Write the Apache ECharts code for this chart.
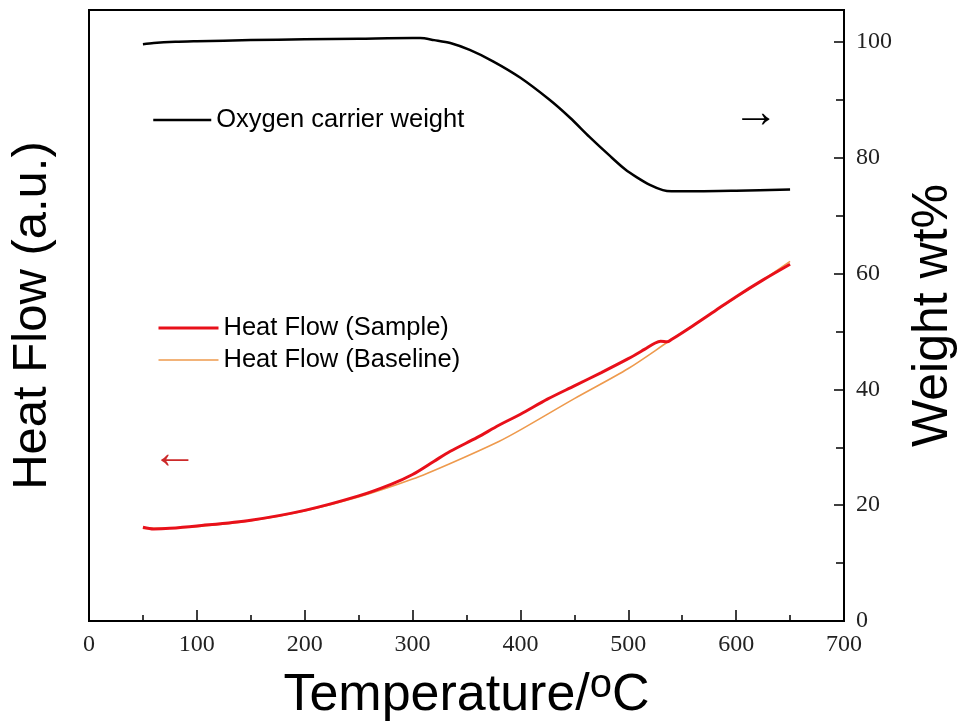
<!DOCTYPE html>
<html>
<head>
<meta charset="utf-8">
<script src="https://cdn.jsdelivr.net/npm/echarts@6/dist/echarts.min.js"></script>
<style>
  html, body { margin: 0; padding: 0; background: #fff; }
  #main { width: 965px; height: 724px; }
</style>
</head>
<body>
<div id="main"></div>
<script>
// 温度 (°C) / 失重曲线
var weightT = [50, 60, 80, 100, 150, 200, 250, 300, 307, 320, 335, 353, 375, 400, 427, 446, 464, 483, 497, 508, 520, 532, 540, 560, 600, 650];
var weightV = [99.6, 99.8, 100.0, 100.1, 100.3, 100.45, 100.55, 100.65, 100.65, 100.3, 99.8, 98.6, 96.6, 93.8, 90.0, 86.9, 83.6, 80.3, 78.0, 76.6, 75.3, 74.4, 74.2, 74.2, 74.3, 74.5];

// 热流 (样品)
var sampleT = [50, 60, 75, 100, 150, 200, 250, 280, 300, 320, 335, 360, 380, 400, 425, 450, 475, 500, 515, 525, 530, 536, 540, 560, 580, 600, 625, 650];
var sampleV = [16.2, 15.9, 16.0, 16.4, 17.4, 19.1, 21.6, 23.6, 25.3, 27.6, 29.3, 31.7, 33.8, 35.7, 38.3, 40.6, 42.9, 45.3, 46.9, 48.0, 48.3, 48.2, 48.6, 51.0, 53.5, 56.0, 58.9, 61.6];

// 热流 (基线)
var baseT = [50, 60, 100, 150, 200, 250, 300, 335, 380, 400, 450, 500, 540, 580, 620, 650];
var baseV = [16.0, 16.0, 16.3, 17.3, 19.0, 21.4, 24.5, 27.2, 31.0, 33.0, 38.4, 43.6, 48.6, 53.5, 58.3, 62.1];

function pairs(xs, ys) {
  var out = [];
  for (var i = 0; i < xs.length; i++) out.push([xs[i], ys[i]]);
  return out;
}

var myChart = echarts.init(document.getElementById('main'));
var serif = 'Liberation Serif';
var sans = 'Liberation Sans';

var option = {
  backgroundColor: '#fff',
  animation: false,
  grid: {
    left: 89, right: 121, top: 10, bottom: 103,
    outerBoundsMode: 'none',
    show: true, borderColor: '#000', borderWidth: 2
  },
  legend: [
    {
      data: [{ name: 'Oxygen carrier weight', lineStyle: { width: 2.5 } }],
      left: 147, top: 102,
      itemWidth: 58, itemHeight: 14,
      itemStyle: { opacity: 0 },
      textStyle: { fontFamily: sans, fontSize: 25.5, color: '#000' }
    },
    {
      data: [
        { name: 'Heat Flow (Sample)', lineStyle: { width: 3 } },
        { name: 'Heat Flow (Baseline)', lineStyle: { width: 1.6 } }
      ],
      orient: 'vertical',
      left: 152, top: 310,
      itemWidth: 60, itemHeight: 14, itemGap: 6,
      itemStyle: { opacity: 0 },
      textStyle: { fontFamily: sans, fontSize: 25.5, color: '#000', lineHeight: 26 }
    }
  ],
  xAxis: {
    type: 'value', min: 0, max: 700, interval: 100,
    name: '{a|Temperature/}{s|o}{a|C}',
    nameLocation: 'middle', nameGap: 45,
    nameTextStyle: {
      rich: {
        a: { fontFamily: sans, fontSize: 52, color: '#000' },
        s: { fontFamily: sans, fontSize: 40, color: '#000', verticalAlign: 'top', padding: [0, 0, 20, 0] }
      }
    },
    axisLine: { lineStyle: { color: '#000', width: 2 } },
    axisTick: { inside: true, length: 11, lineStyle: { color: '#000', width: 1.5 } },
    minorTick: { show: true, splitNumber: 2, length: 6, lineStyle: { color: '#000', width: 1.5 } },
    axisLabel: { fontFamily: serif, fontSize: 24, color: '#222', margin: 12 },
    splitLine: { show: false }
  },
  yAxis: [
    {
      type: 'value', min: 0, max: 105.5, position: 'left',
      name: 'Heat Flow (a.u.)',
      nameLocation: 'middle', nameRotate: 90, nameGap: 32,
      nameTextStyle: { fontFamily: sans, fontSize: 49, color: '#000' },
      axisLine: { show: true, lineStyle: { color: '#000', width: 2 } },
      axisTick: { show: false },
      axisLabel: { show: false },
      splitLine: { show: false }
    },
    {
      type: 'value', min: 0, max: 105.5, interval: 20, position: 'right',
      name: 'Weight wt%',
      nameLocation: 'middle', nameRotate: 90, nameGap: 64,
      nameTextStyle: { fontFamily: sans, fontSize: 50, color: '#000' },
      axisLine: { show: true, lineStyle: { color: '#000', width: 2 } },
      axisTick: { inside: true, length: 10, lineStyle: { color: '#000', width: 1.5 } },
      minorTick: { show: true, splitNumber: 2, length: 8, lineStyle: { color: '#000', width: 1.5 } },
      axisLabel: { fontFamily: serif, fontSize: 24, color: '#222', margin: 12, showMaxLabel: false },
      splitLine: { show: false }
    }
  ],
  series: [
    {
      name: 'Oxygen carrier weight', type: 'line', yAxisIndex: 1,
      symbol: 'none', smooth: 0.3,
      lineStyle: { color: '#000', width: 2.5 },
      itemStyle: { color: '#000' },
      data: pairs(weightT, weightV)
    },
    {
      name: 'Heat Flow (Baseline)', type: 'line', yAxisIndex: 0,
      symbol: 'none', smooth: 0.3,
      lineStyle: { color: '#ee9a4d', width: 1.6 },
      itemStyle: { color: '#ee9a4d' },
      data: pairs(baseT, baseV)
    },
    {
      name: 'Heat Flow (Sample)', type: 'line', yAxisIndex: 0,
      symbol: 'none', smooth: 0.3,
      lineStyle: { color: '#e8101a', width: 3 },
      itemStyle: { color: '#e8101a' },
      data: pairs(sampleT, sampleV),
      z: 3
    }
  ],
  graphic: [
    { type: 'text', left: 733, top: 91, style: { text: '→', font: '46px "Liberation Sans"', fill: '#000' } },
    { type: 'text', left: 152, top: 432, style: { text: '←', font: '46px "Liberation Sans"', fill: '#cc2a2a' } }
  ]
};

myChart.setOption(option);
</script>
</body>
</html>
